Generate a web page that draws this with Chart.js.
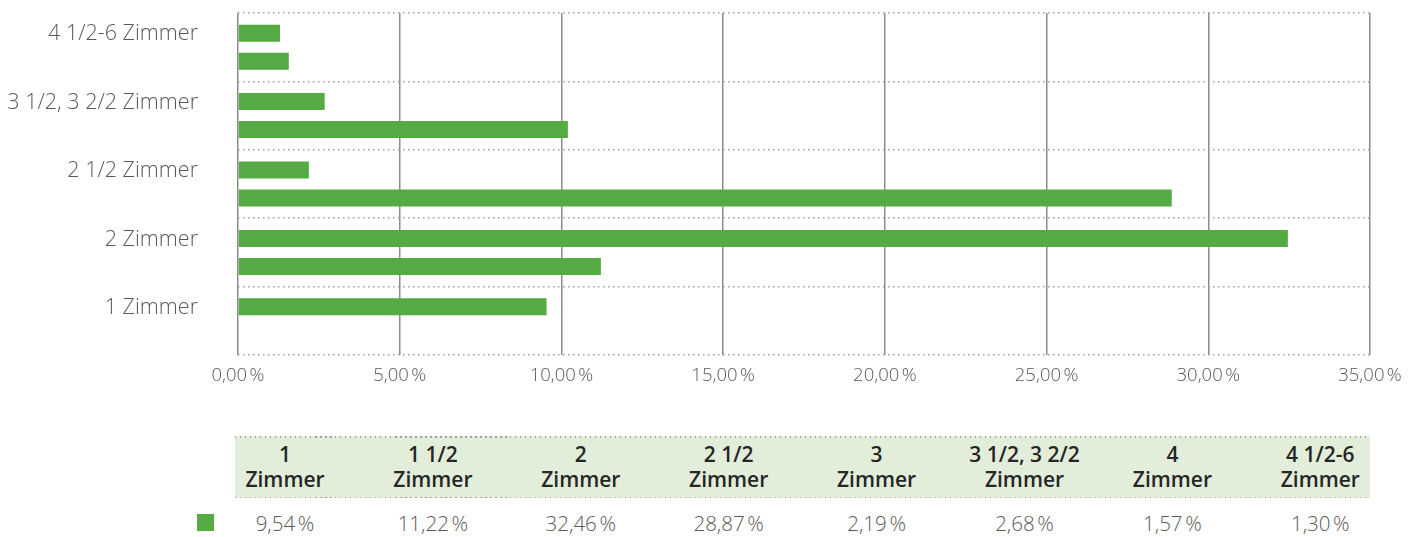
<!DOCTYPE html>
<html>
<head>
<meta charset="utf-8">
<script src="https://cdn.jsdelivr.net/npm/chart.js@4/dist/chart.umd.min.js"></script>
<style>
body { margin: 0; background: #fff; font-family: "Open Sans", sans-serif; }
#wrap { position: relative; width: 1422px; height: 537px; overflow: hidden; }
#chart { position: absolute; left: 0; top: 0; }
#head { position: absolute; left: 235px; top: 436px; width: 1135px; height: 62px; background: #e2eeda; }
.dots { position: absolute; left: 0; width: 100%; height: 1.5px;
  background-image: repeating-linear-gradient(to right, #a0a0a0 0 1.5px, transparent 1.5px 5px); }
.hc { position: absolute; top: 6px; width: 148px; text-align: center; font-weight: 600; font-size: 21px; line-height: 25px; color: #262626; }
.vc { position: absolute; top: 510px; width: 148px; text-align: center; font-weight: 300; font-size: 20.5px; line-height: 26px; color: #595959; }
#key { position: absolute; left: 197px; top: 514px; width: 17px; height: 17px; background: #55ab43; }
</style>
</head>
<body>
<div id="wrap">
  <canvas id="chart" width="1422" height="400"></canvas>
  <div id="head"><div class="dots" style="top:0"></div><div class="dots" style="bottom:0"></div></div>
  <div id="key"></div>
</div>
<script>
// y axis categories, top to bottom
const barLabels = ['4 1/2-6 Zimmer', '3 1/2, 3 2/2 Zimmer', '2 1/2 Zimmer', '2 Zimmer', '1 Zimmer'];
// two bars per category: upper and lower
const upperValues = [1.30, 2.68, 2.19, 32.46, 9.54];
const lowerValues = [1.57, 10.2, 28.87, 11.22, null];

// table under the chart
const tableHeads = ['1\nZimmer', '1 1/2\nZimmer', '2\nZimmer', '2 1/2\nZimmer', '3\nZimmer', '3 1/2, 3 2/2\nZimmer', '4\nZimmer', '4 1/2-6\nZimmer'];
const tableValues = [9.54, 11.22, 32.46, 28.87, 2.19, 2.68, 1.57, 1.30];

const xTicks = [0, 5, 10, 15, 20, 25, 30, 35];

const green = '#55ab43';
const txt = '#595959';

function pct(v) {
    return v.toFixed(2).replace('.', ',') + '\u202f%';
}

// build the table
const head = document.getElementById('head');
const wrap = document.getElementById('wrap');
tableHeads.forEach((h, i) => {
    const d = document.createElement('div');
    d.className = 'hc';
    d.style.left = (-24 + i * 147.9) + 'px';
    d.innerHTML = h.replace('\n', '<br>');
    head.appendChild(d);

    const v = document.createElement('div');
    v.className = 'vc';
    v.style.left = (211 + i * 147.9) + 'px';
    v.textContent = pct(tableValues[i]);
    wrap.appendChild(v);
});

const barStyle = { backgroundColor: green, barPercentage: 0.607, categoryPercentage: 0.818 };

new Chart(document.getElementById('chart'), {
    type: 'bar',
    data: {
        labels: barLabels,
        datasets: [
            Object.assign({ data: upperValues }, barStyle),
            Object.assign({ data: lowerValues }, barStyle)
        ]
    },
    options: {
        indexAxis: 'y',
        responsive: false,
        animation: false,
        layout: { padding: { top: 13, right: 52, left: 0, bottom: 0 } },
        plugins: { legend: { display: false }, tooltip: { enabled: false } },
        scales: {
            x: {
                min: 0,
                max: 35,
                z: 1,
                afterFit: (s) => { s.height = 45; s.paddingLeft = 0; s.paddingRight = 0; },
                afterBuildTicks: (s) => { s.ticks = xTicks.map(v => ({ value: v })); },
                ticks: {
                    padding: 10,
                    color: txt,
                    font: { family: 'Open Sans', size: 18.5, weight: 300 },
                    callback: (v) => pct(v)
                },
                grid: { color: '#8c8c8c', lineWidth: 1.5, drawTicks: false },
                border: { display: false }
            },
            y: {
                afterFit: (s) => { s.width = 238; s.paddingTop = 0; s.paddingBottom = 0; },
                ticks: {
                    autoSkip: false,
                    padding: 40,
                    labelOffset: -13,
                    color: txt,
                    font: { family: 'Open Sans', size: 21.5, weight: 300 }
                },
                grid: { color: '#a0a0a0', lineWidth: 1.5, drawTicks: false },
                border: { display: false, dash: [1.5, 3.5] }
            }
        }
    }
});
</script>
</body>
</html>
